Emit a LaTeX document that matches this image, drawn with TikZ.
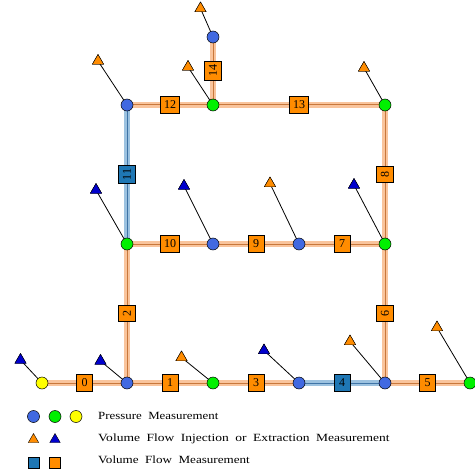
\documentclass[tikz,border=0pt]{standalone}
\usepackage{fontspec}
\setmainfont{Liberation Serif}
\newfontfamily\legfamA[FakeStretch=1.17]{Liberation Serif}
\newfontfamily\legfamB[FakeStretch=1.23]{Liberation Serif}
\newfontfamily\legfamC[FakeStretch=1.19]{Liberation Serif}
\usetikzlibrary{shapes.geometric}
\definecolor{pblue}{HTML}{4169E1}
\definecolor{pgreen}{HTML}{00F000}
\definecolor{pyellow}{HTML}{FFFF00}
\definecolor{forange}{HTML}{FF8C00}
\definecolor{fblue}{HTML}{1F77B4}
\definecolor{tblue}{HTML}{0000CD}
\definecolor{pipeO}{HTML}{F9C49C}
\definecolor{pipeOc}{HTML}{C8783C}
\definecolor{pipeB}{HTML}{9CC2E0}
\definecolor{pipeBc}{HTML}{3F74A6}
\newcommand\mylegsize{\fontsize{11}{12}\selectfont\spaceskip 6.5pt\relax}
\tikzset{
  meas/.style={circle, draw=black, line width=0.5pt, minimum size=12pt, inner sep=0pt},
  tri/.style={regular polygon, regular polygon sides=3, draw=black, line width=0.4pt, minimum size=13pt, inner sep=0pt},
  flowbox/.style={draw=black, line width=0.6pt, fill=forange, minimum width=16pt, minimum height=17pt, inner xsep=3.5pt, inner ysep=1pt, font=\fontsize{12}{13}\selectfont},
  flowboxB/.style={flowbox, fill=fblue},
  pipeo/.style={line width=5.5pt, draw=pipeO},
  pipeoc/.style={line width=1pt, draw=pipeOc},
  pipeb/.style={line width=5.5pt, draw=pipeB},
  pipebc/.style={line width=1pt, draw=pipeBc},
  mline/.style={draw=black, line width=0.8pt},
  legtext/.style={anchor=base west, inner sep=0pt}
}
\begin{document}
\begin{tikzpicture}[x=1pt,y=-1pt]
\useasboundingbox (0,0) rectangle (474,476);
% node coordinates
\coordinate (y0) at (42,383);
\coordinate (b1) at (127,383);
\coordinate (g2) at (213,383);
\coordinate (b3) at (299,383);
\coordinate (b4) at (385,383);
\coordinate (g5) at (470,383);
\coordinate (g6) at (127,244);
\coordinate (b7) at (213,244);
\coordinate (b8) at (299,244);
\coordinate (g9) at (385,244);
\coordinate (b10) at (127,105);
\coordinate (g11) at (213,105);
\coordinate (g12) at (385,105);
\coordinate (b13) at (213,37);
% pipes (orange)
\foreach \a/\b in {y0/b1,b1/g2,g2/b3,b4/g5,b1/g6,b4/g9,g6/b7,b7/b8,b8/g9,g9/g12,b10/g11,g11/g12,g11/b13}{
  \draw[pipeo] (\a) -- (\b);
}
\foreach \a/\b in {y0/b1,b1/g2,g2/b3,b4/g5,b1/g6,b4/g9,g6/b7,b7/b8,b8/g9,g9/g12,b10/g11,g11/g12,g11/b13}{
  \draw[pipeoc] (\a) -- (\b);
}
% pipes (blue)
\foreach \a/\b in {b3/b4,g6/b10}{
  \draw[pipeb] (\a) -- (\b);
  \draw[pipebc] (\a) -- (\b);
}
% triangles
\node[tri, fill=tblue]   (t0)  at (20.5,360) {};
\node[tri, fill=tblue]   (t1)  at (100.5,361) {};
\node[tri, fill=forange] (t2)  at (181.5,357.5) {};
\node[tri, fill=tblue]   (t3)  at (264,350.5) {};
\node[tri, fill=forange] (t4)  at (350,341.5) {};
\node[tri, fill=forange] (t5)  at (437,327.5) {};
\node[tri, fill=tblue]   (t6)  at (96,190) {};
\node[tri, fill=tblue]   (t7)  at (184,186) {};
\node[tri, fill=forange] (t8)  at (270,183.5) {};
\node[tri, fill=tblue]   (t9)  at (354,185) {};
\node[tri, fill=forange] (t10) at (98,61) {};
\node[tri, fill=forange] (t11) at (188,67) {};
\node[tri, fill=forange] (t12) at (364,68) {};
\node[tri, fill=forange] (t13) at (200.5,8.5) {};
\foreach \n/\t in {y0/t0,b1/t1,g2/t2,b3/t3,b4/t4,g5/t5,g6/t6,b7/t7,b8/t8,g9/t9,b10/t10,g11/t11,g12/t12,b13/t13}{
  \draw[mline] (\n) -- (\t.center);
}
% redraw triangles on top of lines
\foreach \t/\c/\x/\y in {t0/tblue/20.5/360,t1/tblue/100.5/361,t2/forange/181.5/357.5,t3/tblue/264/350.5,t4/forange/350/341.5,t5/forange/437/327.5,t6/tblue/96/190,t7/tblue/184/186,t8/forange/270/183.5,t9/tblue/354/185,t10/forange/98/61,t11/forange/188/67,t12/forange/364/68,t13/forange/200.5/8.5}{
  \node[tri, fill=\c] at (\x,\y) {};
}
% measurement nodes
\node[meas, fill=pyellow] (ny0) at (y0) {};
\node[meas, fill=pblue]  (nb1) at (b1) {};
\node[meas, fill=pgreen] (ng2) at (g2) {};
\node[meas, fill=pblue]  (nb3) at (b3) {};
\node[meas, fill=pblue]  (nb4) at (b4) {};
\node[meas, fill=pgreen] (ng5) at (g5) {};
\node[meas, fill=pgreen] (ng6) at (g6) {};
\node[meas, fill=pblue]  (nb7) at (b7) {};
\node[meas, fill=pblue]  (nb8) at (b8) {};
\node[meas, fill=pgreen] (ng9) at (g9) {};
\node[meas, fill=pblue]  (nb10) at (b10) {};
\node[meas, fill=pgreen] (ng11) at (g11) {};
\node[meas, fill=pgreen] (ng12) at (g12) {};
\node[meas, fill=pblue]  (nb13) at (b13) {};
% flow labels
\path (y0) -- node[flowbox] (e0) {0} (b1);
\path (b1) -- node[flowbox] (e1) {1} (g2);
\path (b1) -- node[flowbox, rotate=90] (e2) {2} (g6);
\path (g2) -- node[flowbox] (e3) {3} (b3);
\path (b3) -- node[flowboxB] (e4) {4} (b4);
\path (b4) -- node[flowbox] (e5) {5} (g5);
\path (b4) -- node[flowbox, rotate=90] (e6) {6} (g9);
\path (b8) -- node[flowbox] (e7) {7} (g9);
\path (g9) -- node[flowbox, rotate=90] (e8) {8} (g12);
\path (b7) -- node[flowbox] (e9) {9} (b8);
\path (g6) -- node[flowbox] (e10) {10} (b7);
\path (g6) -- node[flowboxB, rotate=90] (e11) {11} (b10);
\path (b10) -- node[flowbox] (e12) {12} (g11);
\path (g11) -- node[flowbox] (e13) {13} (g12);
\path (g11) -- node[flowbox, rotate=90] (e14) {14} (b13);
% legend
\node[meas, fill=pblue]  (l1) at (33.5,416.5) {};
\node[meas, fill=pgreen] (l2) at (55,416.5) {};
\node[meas, fill=pyellow] (l3) at (76,416.5) {};
\node[tri, fill=forange, minimum size=12pt] (l4) at (33.5,439.5) {};
\node[tri, fill=tblue, minimum size=12pt] (l5) at (55,439.5) {};
\node[draw=black, line width=0.5pt, fill=fblue, minimum size=11pt, inner sep=0pt] (l6) at (33.5,463) {};
\node[draw=black, line width=0.5pt, fill=forange, minimum size=11pt, inner sep=0pt] (l7) at (55,463) {};
\node[legtext, font=\legfamA\mylegsize] (lt1) at (98,419.7) {Pressure Measurement};
\node[legtext, font=\legfamB\mylegsize] (lt2) at (98,441.3) {Volume Flow Injection or Extraction Measurement};
\node[legtext, font=\legfamC\mylegsize] (lt3) at (98,463) {Volume Flow Measurement};
\end{tikzpicture}
\end{document}
